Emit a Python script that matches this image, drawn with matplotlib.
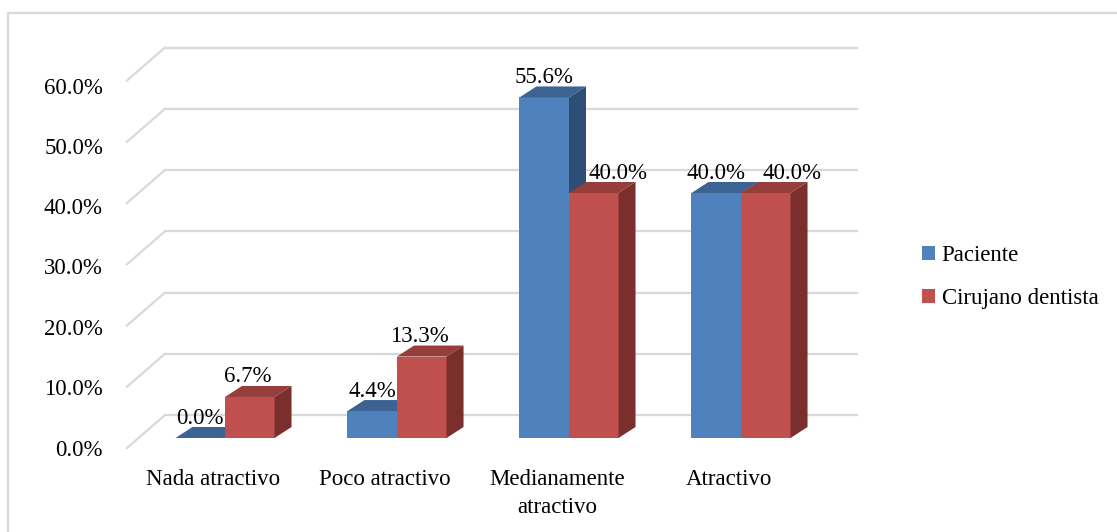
import numpy as np
import matplotlib
matplotlib.use("Agg")
import matplotlib.pyplot as plt
from matplotlib.patches import Polygon, Rectangle, Patch

plt.rcParams['font.family'] = ['Liberation Serif', 'DejaVu Serif']

categories = ["Nada atractivo", "Poco atractivo", "Medianamente\natractivo", "Atractivo"]
paciente = [0.0, 4.4, 55.6, 40.0]
cirujano = [6.7, 13.3, 40.0, 40.0]
series_names = ["Paciente", "Cirujano dentista"]
yticks = [0, 10, 20, 30, 40, 50, 60]

# label nudges (pixels) where labels would hit a neighbouring bar/label
lab_dx_pac = [0, 0, 0, 0]
lab_dx_cir = [-2, -2, 24, 26]

# colours: front, top, side
blue = ("#4f81bd", "#3c6391", "#2f4e75")
red = ("#c0504d", "#963e3c", "#7b2f2d")

FS = 16.5
W, H = 1117, 532
fig = plt.figure(figsize=(W / 100, H / 100), dpi=100)

# axes = the plane of the bars' front faces
ax_l, ax_r, ax_b, ax_t = 96, 870, 94, 461.5
ax = fig.add_axes([ax_l / W, ax_b / H, (ax_r - ax_l) / W, (ax_t - ax_b) / H])
ax.set_xlim(-0.75, 3.75)
ax.set_ylim(0, 60)
ax.axis('off')

# data units per pixel
ux = 4.5 / (ax_r - ax_l)
uy = 60 / (ax_t - ax_b)

grid_col = "#d9d9d9"
# floor/wall geometry relative to bar plane (pixels)
back_dx, back_dy = 26, 23
front_dx, front_dy = -12, -10

for v in yticks:
    bx0 = -0.5 + back_dx * ux
    bx1 = 3.53 + back_dx * ux
    by = v + back_dy * uy
    ax.plot([bx0, bx1], [by, by], color=grid_col, lw=1.6, zorder=1,
            solid_capstyle='butt', clip_on=False)
    fx = -0.5 + front_dx * ux
    fy = v + front_dy * uy
    ax.plot([fx, bx0], [fy, by], color=grid_col, lw=1.6, zorder=1, clip_on=False)
    off = 12 + 5.5 * v / 60
    ax.text(-0.75 + 7 * ux, v - off * uy, f"{v:.1f}%", ha='right', va='center',
            fontsize=FS, color='black')

w = 0.288
ddx, ddy = 17 * ux, 11 * uy


def bar3d(x0, h, cols, lab_dx):
    x1 = x0 + w
    ax.add_patch(Rectangle((x0, 0), w, h, facecolor=cols[0], edgecolor='none', zorder=3))
    ax.add_patch(Polygon([(x0, h), (x1, h), (x1 + ddx, h + ddy), (x0 + ddx, h + ddy)],
                         closed=True, facecolor=cols[1], edgecolor='none', zorder=3))
    ax.add_patch(Polygon([(x1, 0), (x1 + ddx, ddy), (x1 + ddx, h + ddy), (x1, h)],
                         closed=True, facecolor=cols[2], edgecolor='none', zorder=3))
    ax.text(x0 + w / 2 + lab_dx * ux, h + 20 * uy, f"{h:.1f}%", ha='center', va='center',
            fontsize=FS, color='black', zorder=5)


for i in range(len(categories)):
    bar3d(i - w, paciente[i], blue, lab_dx_pac[i])
    bar3d(i, cirujano[i], red, lab_dx_cir[i])
    ax.text(i - 12 * ux, -31 * uy, categories[i], ha='center', va='top',
            fontsize=FS, linespacing=1.45, color='black')

handles = [Patch(facecolor=blue[0]), Patch(facecolor=red[0])]
fig.legend(handles, series_names, loc='center left',
           bbox_to_anchor=(913 / W, 1 - 277 / H), frameon=False,
           fontsize=FS, handlelength=0.55, handleheight=0.55,
           handletextpad=0.3, labelspacing=0.95, borderaxespad=0)

# chart border
fig.add_artist(Rectangle((8 / W, -0.05), 1.2, 1 - 13 / H + 0.05, transform=fig.transFigure,
                         fill=False, edgecolor="#d9d9d9", lw=1.6))

fig.savefig("out.png", dpi=100)
